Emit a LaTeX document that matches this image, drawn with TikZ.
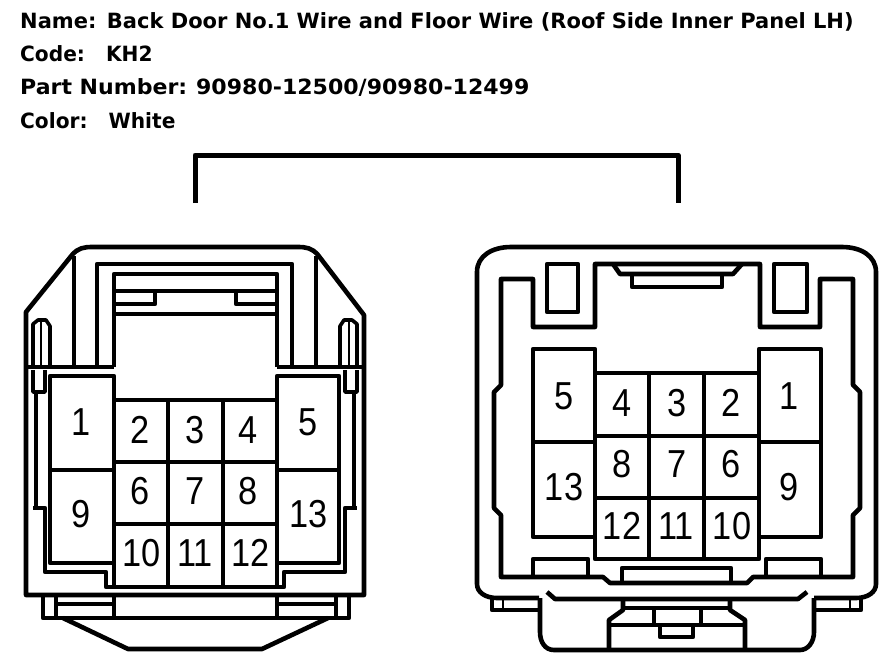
\documentclass[tikz,border=0pt]{standalone}
\usepackage{fontspec}
\setmainfont{Liberation Sans}
\newfontfamily\headfont{DejaVu Sans Bold}
\usepackage{xcolor}
\usepackage{tikz}
\usetikzlibrary{positioning,calc}

\begin{document}
\begin{tikzpicture}[
    x=1pt, y=-1pt,
    wire/.style={draw=black, line width=4.6pt, line join=round},
    pin/.style={font=\fontsize{39}{39}\selectfont, xscale=0.88, inner sep=0pt, text=black},
    head/.style={anchor=base west, inner sep=0pt, font=\headfont\fontsize{21}{21}\selectfont, text=black}
]
    \useasboundingbox (0,0) rectangle (896,670);

    % title lines
    \node[head] (name) at (20,28) {Name:\hspace{0.5em}Back Door No.1 Wire and Floor Wire (Roof Side Inner Panel LH)};
    \node[head, xscale=0.96] (code) at (20,61) {Code:\ \ \ KH2};
    \node[head, xscale=1.05] (part) at (20,94) {Part Number:\hspace{0.4em}90980-12500/90980-12499};
    \node[head, xscale=0.96] (color) at (20,128) {Color:\ \ \ White};

    % bracket joining the two views
    \coordinate (brl) at (195,203);
    \coordinate (brr) at (678,203);
    \draw[wire, line width=5pt] (brl) -- (195,155) -- (678,155) -- (brr);

    % left connector, outer body
    \draw[wire] (26,595) -- (26,312) -- (72,255) .. controls (78,248) and (84,247) .. (92,247)
        -- (298,247) .. controls (306,247) and (312,248) .. (318,255) -- (364,315) -- (364,595) -- cycle;
    \draw[wire] (74,256) -- (74,367);
    \draw[wire] (316,256) -- (316,367);
    \draw[wire] (97,367) -- (97,264) -- (292,264) -- (292,367);
    \draw[wire] (114,367) -- (114,274) -- (277,274) -- (277,367);
    \draw[wire] (114,291) -- (277,291);
    \draw[wire] (114,314) -- (277,314);
    \draw[wire] (114,304) -- (155,304) -- (155,291);
    \draw[wire] (277,304) -- (236,304) -- (236,291);
    \draw[wire] (28,367) -- (114,367);
    \draw[wire] (277,367) -- (362,367);

    % left connector, side combs
    \draw[wire, line width=3.6pt] (33,367) -- (33,324) -- (38,320) -- (46,320) -- (50,326) -- (50,367);
    \draw[wire, line width=2.6pt] (41,320) -- (41,367);
    \draw[wire, line width=3.6pt] (357,367) -- (357,324) -- (352,320) -- (344,320) -- (340,326) -- (340,367);
    \draw[wire, line width=2.6pt] (349,320) -- (349,367);
    \draw[wire, line width=3.6pt] (33,370) -- (33,392) -- (45,392) -- (45,370);
    \draw[wire, line width=3.6pt] (357,370) -- (357,392) -- (345,392) -- (345,370);
    \draw[wire] (36,392) -- (36,508);
    \draw[wire] (354,392) -- (354,508);
    \draw[wire] (33,508) -- (45,508) -- (45,572) -- (106,572) -- (106,587) -- (284,587) -- (284,572) -- (345,572) -- (345,508) -- (357,508);

    % left connector, cavities
    \draw[wire] (50,376) rectangle (114,563);
    \draw[wire] (277,376) rectangle (339,563);
    \draw[wire] (114,376) -- (114,587);
    \draw[wire] (277,376) -- (277,587);
    \draw[wire] (50,470) -- (114,470);
    \draw[wire] (277,470) -- (339,470);
    \draw[wire] (114,400) -- (277,400);
    \draw[wire] (114,462) -- (277,462);
    \draw[wire] (114,524) -- (277,524);
    \draw[wire] (168,400) -- (168,587);
    \draw[wire] (223,400) -- (223,587);

    % left connector, foot
    \draw[wire] (43,595) -- (43,618) -- (349,618) -- (349,595);
    \draw[wire] (56,595) -- (56,618);
    \draw[wire] (336,595) -- (336,618);
    \draw[wire] (114,595) -- (114,618);
    \draw[wire] (277,595) -- (277,618);
    \draw[wire, line width=3.4pt] (56,604) -- (114,604);
    \draw[wire, line width=3.4pt] (277,604) -- (336,604);
    \draw[wire] (63,618) -- (128,649) -- (262,649) -- (328,618);

    % right connector, outer body
    \draw[wire] (477,272) .. controls (477,256) and (492,247) .. (511,247) -- (842,247)
        .. controls (861,247) and (876,256) .. (876,272) -- (876,584)
        .. controls (876,592) and (868,598) .. (856,598) -- (814,598);
    \draw[wire] (539,598) -- (497,598) .. controls (485,598) and (477,592) .. (477,584) -- (477,272);
    \draw[wire] (492,598) -- (492,610) -- (541,610);
    \draw[wire] (861,598) -- (861,610) -- (814,610);
    \draw[wire, line width=2.6pt] (503,598) -- (503,610);
    \draw[wire, line width=2.6pt] (850,598) -- (850,610);
    \draw[wire] (540,598) -- (540,632) .. controls (540,642) and (545,650) .. (554,650) -- (800,650)
        .. controls (808,650) and (814,642) .. (814,632) -- (814,598);

    % right connector, inner wall
    \draw[wire] (533,327) -- (533,279) -- (501,279) -- (501,385) -- (494,392) -- (494,508) -- (501,515)
        -- (501,577) -- (603,577) -- (610,583) -- (747,583) -- (753,577) -- (853,577) -- (853,515)
        -- (860,508) -- (860,392) -- (853,385) -- (853,279) -- (820,279) -- (820,327) -- (760,327)
        -- (760,264) -- (595,264) -- (595,327) -- cycle;
    \draw[wire] (547,264) rectangle (578,312);
    \draw[wire] (774,264) rectangle (807,312);
    \draw[wire] (613,264) -- (620,274) -- (733,274) -- (742,264);
    \draw[wire] (632,274) -- (632,287) -- (722,287) -- (722,274);

    % right connector, cavities
    \draw[wire] (595,537) -- (533,537) -- (533,349) -- (595,349) -- (595,559) -- (759,559) -- (759,349) -- (821,349) -- (821,537) -- (759,537);
    \draw[wire] (533,442) -- (595,442);
    \draw[wire] (759,442) -- (821,442);
    \draw[wire] (595,373) -- (759,373);
    \draw[wire] (595,436) -- (759,436);
    \draw[wire] (595,498) -- (759,498);
    \draw[wire] (649,373) -- (649,559);
    \draw[wire] (704,373) -- (704,559);

    % right connector, lower tabs
    \draw[wire] (533,577) -- (533,559) -- (588,559) -- (588,577);
    \draw[wire] (766,577) -- (766,559) -- (821,559) -- (821,577);
    \draw[wire] (622,583) -- (622,568) -- (731,568) -- (731,583);

    % right connector, latch
    \draw[wire] (547,592) -- (555,599) -- (798,599) -- (807,592);
    \draw[wire] (623,599) -- (623,610) -- (609,620) -- (609,648);
    \draw[wire] (730,599) -- (730,610) -- (745,620) -- (745,648);
    \draw[wire] (609,625) -- (745,625);
    \draw[wire] (623,608) -- (730,608);
    \draw[wire] (654,608) -- (654,625);
    \draw[wire] (701,608) -- (701,625);
    \draw[wire] (660,625) -- (660,637) -- (693,637) -- (693,625);

    % pin numbers
    \foreach \num/\px/\py in {1/81/422, 2/140/430, 3/195/430, 4/248/430, 5/308/422,
        6/140/491, 7/195/491, 8/248/491, 9/81/514, 10/142/553, 11/195/553, 12/251/553, 13/309/514}
        \node[pin] (l\num) at (\px,\py) {\num};
    \foreach \num/\px/\py in {1/789/396, 2/731/403, 3/677/403, 4/622/403, 5/564/396,
        6/731/464, 7/677/464, 8/622/464, 9/789/487, 10/732/526, 11/676/526, 12/622/526, 13/564/487}
        \node[pin] (r\num) at (\px,\py) {\num};
\end{tikzpicture}
\end{document}
